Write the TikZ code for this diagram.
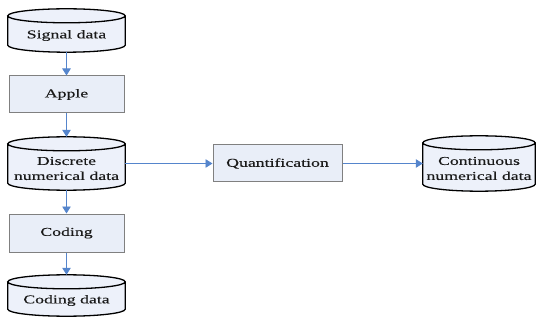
\documentclass[tikz,border=0pt]{standalone}
\usepackage{fontspec}
\setmainfont{Liberation Serif}[FakeStretch=1.48,FakeBold=0.2]
\usetikzlibrary{arrows.meta,calc}
\definecolor{boxfill}{HTML}{E9EEF8}
\definecolor{cylfill}{HTML}{EDF1FA}
\definecolor{boxline}{HTML}{808080}
\definecolor{arrowblue}{HTML}{5585CC}
\definecolor{txt}{HTML}{1A1A1A}
\tikzset{
  procbox/.style={draw=boxline, line width=1pt, fill=boxfill, inner sep=0pt, font=\fontsize{12}{15}\selectfont, text=txt},
  cylshape/.style={inner sep=0pt},
  cyltext/.style={inner sep=0pt, align=center, font=\fontsize{12}{15}\selectfont, text=txt},
  flow/.style={draw=arrowblue, line width=0.8pt, -{Triangle[length=7pt,width=8.5pt]}},
  cylline/.style={draw=black, line width=1.3pt, fill=cylfill}
}
\newcommand\drawcyl[1]{%
  \path[cylline] let \p1=(#1.north west), \p2=(#1.south east), \n1={(\x2-\x1)/2} in
    (\x1,\y1-7pt) -- (\x1,\y2+7pt) arc[start angle=180,end angle=360,x radius=\n1,y radius=7pt]
    -- (\x2,\y1-7pt) arc[start angle=0,end angle=360,x radius=\n1,y radius=7pt];
}
\begin{document}
\begin{tikzpicture}[x=1pt,y=1pt]
\useasboundingbox (0,0) rectangle (537,-320);
% cylinder extents
\node[cylshape, minimum width=117pt, minimum height=43pt] (sig) at (66.5,-30.5) {};
\node[cylshape, minimum width=117pt, minimum height=53pt] (disc) at (66.5,-163.5) {};
\node[cylshape, minimum width=117pt, minimum height=41pt] (cod) at (66.5,-295.5) {};
\node[cylshape, minimum width=112pt, minimum height=55pt] (cont) at (479,-163.5) {};
\drawcyl{sig}
\drawcyl{disc}
\drawcyl{cod}
\drawcyl{cont}
\node[cyltext] (sigT) at ($(sig.center)+(0,-5)$) {Signal data};
\node[cyltext] (discT) at ($(disc.center)+(0,-5)$) {Discrete\\numerical data};
\node[cyltext] (codT) at ($(cod.center)+(0,-5)$) {Coding data};
\node[cyltext] (contT) at ($(cont.center)+(0,-5)$) {Continuous\\numerical data};
% process boxes
\node[procbox, minimum width=115pt, minimum height=37pt] (apple) at (66.5,-94.5) {Apple};
\node[procbox, minimum width=115pt, minimum height=38pt] (coding) at (66.5,-233) {Coding};
\node[procbox, minimum width=129pt, minimum height=37pt] (quant) at (277.5,-163.5) {Quantification};
% connectors
\draw[flow] (sig.south) -- (apple.north);
\draw[flow] (apple.south) -- (disc.north);
\draw[flow] (disc.south) -- (coding.north);
\draw[flow] (coding.south) -- (cod.north);
\draw[flow] (disc.east) -- (quant.west);
\draw[flow] (quant.east) -- (cont.west);
\end{tikzpicture}
\end{document}
